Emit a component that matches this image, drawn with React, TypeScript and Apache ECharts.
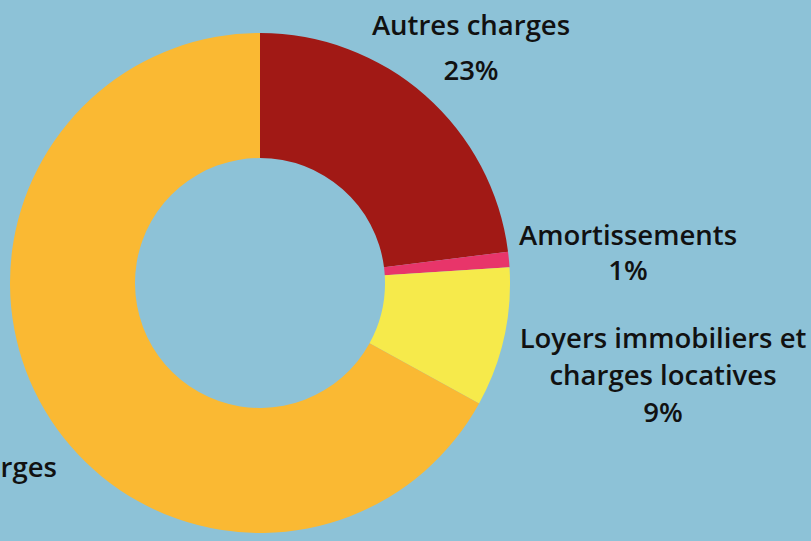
import React, { useEffect, useRef } from "react";
import * as echarts from "echarts";

const categories = [
  "Autres charges",
  "Amortissements",
  "Loyers immobiliers et\ncharges locatives",
  "Salaires et charges",
];
const values = [23, 1, 9, 67];
const colors = ["#A11915", "#E8356A", "#F6EA4B", "#FAB933"];

// label block centres (layout only)
const labelPos: [number, number, number][] = [
  [471, 47, 45],
  [628, 252, 35],
  [663, 374, 37],
  [-67, 485, 38],
];

export default function App() {
  const ref = useRef<HTMLDivElement>(null);
  useEffect(() => {
    document.body.style.margin = "0";
    const chart = echarts.init(ref.current!, null, { renderer: "svg" });
    chart.setOption({
      animation: false,
      backgroundColor: "#8DC2D7",
      series: [
        {
          type: "pie",
          center: [260, 283],
          radius: [125, 250],
          startAngle: 90,
          clockwise: true,
          avoidLabelOverlap: false,
          labelLine: { show: false },
          emphasis: { disabled: true },
          label: {
            show: true,
            position: "outside",
            color: "#111",
            fontFamily: "Open Sans",
            fontSize: 27.5,
            fontWeight: 600,
            align: "center",
            formatter: (p: any) => `${p.name}\n${Math.round(p.percent)}%`,
          },
          labelLayout: (params: any) => {
            const pos = labelPos[params.dataIndex];
            return {
              x: pos[0],
              y: pos[1],
              align: "center",
              verticalAlign: "middle",
            };
          },
          data: categories.map((c, i) => ({
            name: c,
            value: values[i],
            itemStyle: { color: colors[i] },
            label: { lineHeight: labelPos[i][2] },
          })),
        },
      ],
    });
    return () => chart.dispose();
  }, []);
  return <div ref={ref} style={{ width: 811, height: 541 }} />;
}
